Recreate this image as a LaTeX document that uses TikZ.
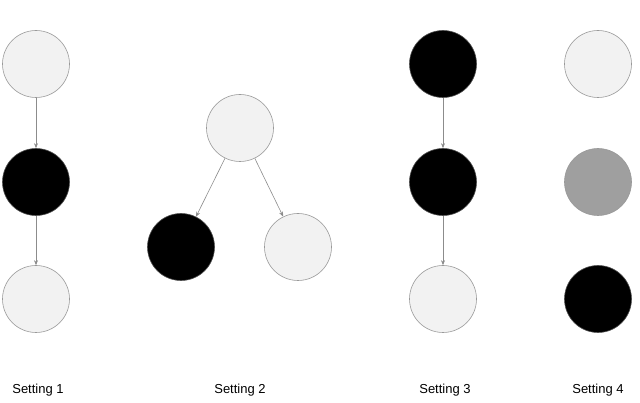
\documentclass[tikz,border=0pt]{standalone}
\usepackage{fontspec}
\setmainfont{Liberation Sans}
\usetikzlibrary{arrows.meta}
\begin{document}
\begin{tikzpicture}[x=1pt,y=-1pt,
 nd/.style={circle,draw=gray!80,line width=0.6pt,minimum size=67pt,inner sep=0pt},
 lt/.style={nd,fill=gray!10},
 dk/.style={nd,fill=black,draw=black!70},
 md/.style={nd,fill=gray!75},
 ar/.style={draw=gray!90,line width=0.6pt,-{Stealth[length=5pt,width=4pt]}},
 lb/.style={font=\fontsize{13}{15}\selectfont}]
\useasboundingbox (0,0) rectangle (640,403);
\node[lt] (a1) at (36,64) {};
\node[dk] (a2) at (36,182) {};
\node[lt] (a3) at (36,299) {};
\draw[ar] (a1) -- (a2);
\draw[ar] (a2) -- (a3);
\node[lt] (b1) at (240,128) {};
\node[dk] (b2) at (181,247) {};
\node[lt] (b3) at (298,247) {};
\draw[ar] (b1) -- (b2);
\draw[ar] (b1) -- (b3);
\node[dk] (c1) at (443,64) {};
\node[dk] (c2) at (443,182) {};
\node[lt] (c3) at (443,299) {};
\draw[ar] (c1) -- (c2);
\draw[ar] (c2) -- (c3);
\node[lt] (d1) at (598,64) {};
\node[md] (d2) at (598,182) {};
\node[dk] (d3) at (598,299) {};
\node[lb] (l1) at (38,390) {Setting 1};
\node[lb] (l2) at (240,390) {Setting 2};
\node[lb] (l3) at (445,390) {Setting 3};
\node[lb] (l4) at (598,390) {Setting 4};
\end{tikzpicture}
\end{document}
